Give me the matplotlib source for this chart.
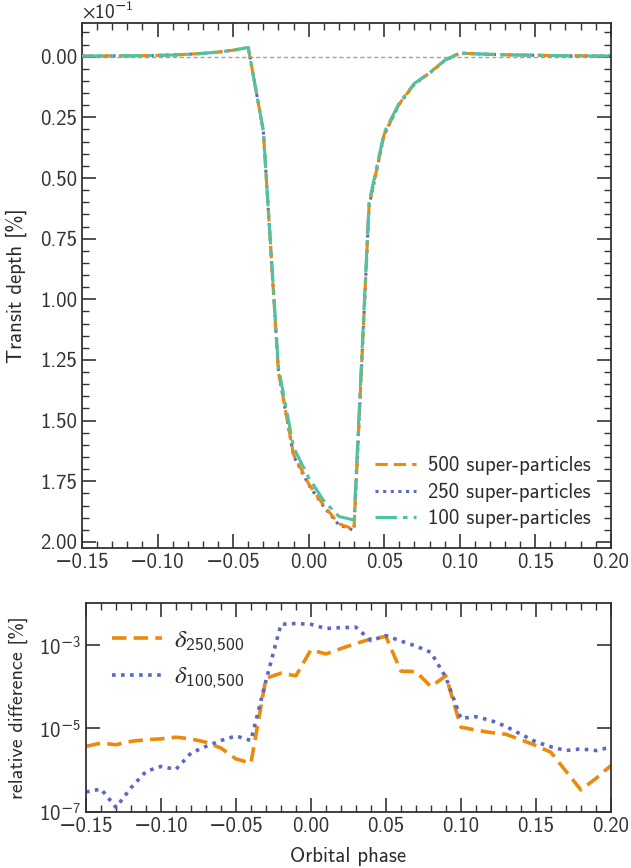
import numpy as np
import matplotlib
matplotlib.use("Agg")
import matplotlib.pyplot as plt
from matplotlib.ticker import FuncFormatter, NullLocator

# orbital phase grid
phase = [-0.15, -0.14, -0.13, -0.12, -0.11, -0.10, -0.09, -0.08, -0.07, -0.06,
         -0.05, -0.04, -0.03, -0.02, -0.01, 0.00, 0.01, 0.02, 0.03, 0.04,
         0.05, 0.06, 0.07, 0.08, 0.09, 0.10, 0.11, 0.12, 0.13, 0.14,
         0.15, 0.16, 0.17, 0.18, 0.19, 0.20]

# transit depth [%]
depth_500 = [-0.0003, -0.0003, -0.00035, -0.0004, -0.00045, -0.00055, -0.0007, -0.001, -0.0014, -0.0019,
             -0.0027, -0.0038, 0.0306, 0.1300, 0.1640, 0.1760, 0.1850, 0.1925, 0.1948, 0.0612,
             0.0320, 0.0194, 0.0112, 0.0067, 0.0015, -0.0015, -0.0012, -0.0010, -0.0008, -0.0007,
             -0.0006, -0.0005, -0.0004, -0.0004, -0.0003, -0.0003]
depth_250 = [-0.0003, -0.0003, -0.00035, -0.0004, -0.00045, -0.00055, -0.0007, -0.001, -0.0014, -0.0019,
             -0.0027, -0.0038, 0.0305, 0.1295, 0.1645, 0.1765, 0.1855, 0.1930, 0.1952, 0.0615,
             0.0322, 0.0195, 0.0113, 0.0068, 0.0016, -0.0015, -0.0012, -0.0010, -0.0008, -0.0007,
             -0.0006, -0.0005, -0.0004, -0.0004, -0.0003, -0.0003]
depth_100 = [-0.0003, -0.0003, -0.00035, -0.0004, -0.00045, -0.00055, -0.0007, -0.001, -0.0014, -0.0019,
             -0.0027, -0.0038, 0.0305, 0.1280, 0.1610, 0.1735, 0.1830, 0.1895, 0.1910, 0.0600,
             0.0312, 0.0190, 0.0110, 0.0066, 0.0015, -0.0015, -0.0012, -0.0010, -0.0008, -0.0007,
             -0.0006, -0.0005, -0.0004, -0.0004, -0.0003, -0.0003]

# log10 of relative differences [%]
log_d250 = [-5.43, -5.35, -5.39, -5.31, -5.27, -5.25, -5.21, -5.25, -5.33, -5.47,
            -5.73, -5.83, -3.80, -3.68, -3.74, -3.12, -3.22, -3.09, -2.97, -2.86,
            -2.80, -3.63, -3.64, -4.00, -3.74, -4.97, -5.04, -5.10, -5.14, -5.27,
            -5.41, -5.57, -6.02, -6.47, -6.20, -5.89]
log_d100 = [-6.52, -6.45, -6.89, -6.42, -6.03, -5.91, -5.98, -5.59, -5.43, -5.29,
            -5.18, -5.29, -3.86, -2.51, -2.49, -2.51, -2.61, -2.59, -2.58, -2.90,
            -2.78, -2.91, -3.03, -3.18, -3.78, -4.76, -4.72, -4.81, -4.95, -5.14,
            -5.32, -5.44, -5.53, -5.49, -5.53, -5.45]
d250 = [10.0 ** v for v in log_d250]
d100 = [10.0 ** v for v in log_d100]

c_orange = '#ec8a0c'
c_blue = '#5b67c2'
c_teal = '#4fc2a2'
c_text = '#2b2b2b'

plt.rcParams['font.family'] = ['cmss10', 'DejaVu Sans']
plt.rcParams['mathtext.fontset'] = 'custom'
plt.rcParams['mathtext.rm'] = 'cmss10'
plt.rcParams['mathtext.sf'] = 'DejaVu Sans'
plt.rcParams['mathtext.it'] = 'STIXGeneral:italic'
plt.rcParams['mathtext.fallback'] = 'stixsans'
plt.rcParams['axes.unicode_minus'] = True
plt.rcParams['text.color'] = c_text
plt.rcParams['axes.labelcolor'] = c_text
plt.rcParams['xtick.color'] = '#333333'
plt.rcParams['ytick.color'] = '#333333'
plt.rcParams['axes.edgecolor'] = '#333333'
plt.rcParams['axes.linewidth'] = 1.3

fs_tick = 15
fs_label = 15

fig = plt.figure(figsize=(6.31, 8.68), dpi=100)
ax1 = fig.add_axes([0.130, 0.3687, 0.838, 0.6048])
ax2 = fig.add_axes([0.1363, 0.0645, 0.8317, 0.2408])

# ---- top panel
ax1.axhline(0, color='#a0a0a0', lw=1.0, ls=(0, (3, 2)), zorder=1)
ax1.plot(phase, depth_500, color=c_orange, lw=2.2, ls=(0, (4, 2)), label='500 super-particles', zorder=3)
ax1.plot(phase, depth_250, color=c_blue, lw=2.2, ls=(0, (1, 1.5)), label='250 super-particles', zorder=2)
ax1.plot(phase, depth_100, color=c_teal, lw=2.2, ls=(0, (7, 2, 1.5, 2)), label='100 super-particles', zorder=4)

ax1.set_xlim(-0.15, 0.20)
ax1.set_ylim(0.2025, -0.0139)
ax1.set_xticks(np.arange(-0.15, 0.2001, 0.05))
ax1.set_xticks(np.arange(-0.15, 0.2001, 0.01), minor=True)
ax1.set_yticks(np.arange(0, 0.2001, 0.025))
ax1.set_yticks(np.arange(-0.01, 0.2001, 0.005), minor=True)
ax1.yaxis.set_major_formatter(FuncFormatter(lambda v, p: '%.2f' % (abs(v * 10) + 0.0)))
ax1.text(0.0, 1.003, r'$\times10^{\mathsf{-}1}$', transform=ax1.transAxes,
         fontsize=14, ha='left', va='bottom')
ax1.set_ylabel('Transit depth [%]', fontsize=fs_label)
ax1.yaxis.set_label_coords(-0.104, 0.5)
ax1.legend(loc='lower right', frameon=False, fontsize=15, handlelength=2.0,
           handletextpad=0.58, borderaxespad=0.55, labelspacing=0.35)

# ---- bottom panel
ax2.plot(phase, d250, color=c_orange, lw=2.6, ls=(0, (4, 2)), label=r'$\delta_{250{,}500}$')
ax2.plot(phase, d100, color=c_blue, lw=2.6, ls=(0, (1, 1.5)), label=r'$\delta_{100{,}500}$')
ax2.set_yscale('log')
ax2.set_xlim(-0.15, 0.20)
ax2.set_ylim(1e-7, 1e-2)
ax2.set_yticks([1e-7, 1e-5, 1e-3])
ax2.yaxis.set_minor_locator(NullLocator())
ax2.yaxis.set_major_formatter(FuncFormatter(
    lambda v, p: r'$10^{\mathsf{-}%d}$' % round(-np.log10(v))))
ax2.set_xticks(np.arange(-0.15, 0.2001, 0.05))
ax2.set_xticks(np.arange(-0.15, 0.2001, 0.01), minor=True)
ax2.set_xlabel('Orbital phase', fontsize=fs_label)
ax2.set_ylabel('relative difference [%]', fontsize=14.5)
ax2.xaxis.set_label_coords(0.5, -0.166)
ax2.yaxis.set_label_coords(-0.11, 0.5)
ax2.legend(loc='upper left', frameon=False, fontsize=18, handlelength=2.0,
           handletextpad=0.45, borderaxespad=0.65, labelspacing=0.45)

for ax in (ax1, ax2):
    ax.tick_params(which='both', direction='in', top=True, right=True, labelsize=fs_tick)
    ax.tick_params(which='major', length=10, width=1.2)
    ax.tick_params(which='minor', length=5, width=1.0)

fig.savefig('out.png', dpi=100)
